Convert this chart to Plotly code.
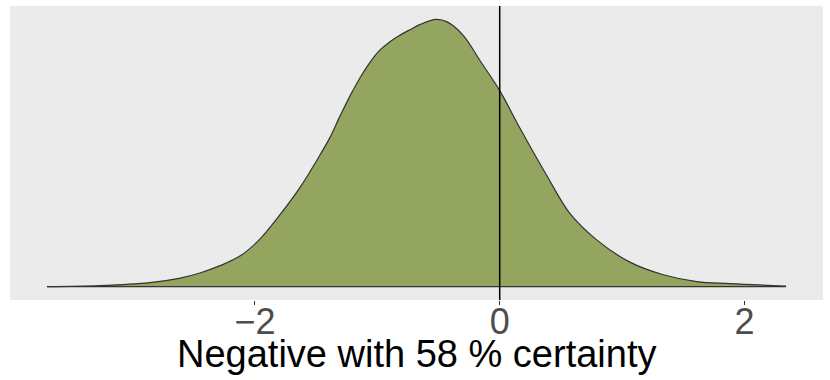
import plotly.graph_objects as go

# density curve (x value, density)
x_vals = [-3.70, -3.27, -2.86, -2.61, -2.45, -2.29, -2.12, -1.96, -1.80, -1.63,
          -1.47, -1.39, -1.31, -1.22, -1.14, -1.06, -0.98, -0.90, -0.82, -0.73,
          -0.65, -0.52, -0.43, -0.30, -0.16, 0.00, 0.16, 0.38, 0.57, 0.79,
          1.06, 1.33, 1.61, 1.88, 2.34]
density = [0.000, 0.002, 0.008, 0.017, 0.027, 0.041, 0.061, 0.094, 0.141, 0.197,
           0.260, 0.294, 0.335, 0.379, 0.414, 0.444, 0.468, 0.484, 0.497, 0.509,
           0.519, 0.529, 0.524, 0.498, 0.447, 0.388, 0.316, 0.222, 0.146, 0.093,
           0.049, 0.024, 0.010, 0.006, 0.001]
tick_vals = [-2, 0, 2]
tick_text = ["\u22122", "0", "2"]
title = "Negative with 58 % certainty"

x_lo, x_hi = min(x_vals), max(x_vals)
pad_x = 0.05 * (x_hi - x_lo)
y_top = max(density)

fig = go.Figure()
# curve, filled down to zero
fig.add_trace(go.Scatter(
    x=x_vals, y=density,
    mode="lines",
    fill="tozeroy",
    fillcolor="#93A55F",
    line=dict(color="#333333", width=1.2, shape="spline", smoothing=1.0),
    hoverinfo="skip",
    showlegend=False,
))
# baseline outline under the density
fig.add_trace(go.Scatter(
    x=[x_lo, x_hi], y=[0, 0],
    mode="lines",
    line=dict(color="#333333", width=1.2),
    hoverinfo="skip",
    showlegend=False,
))

fig.add_vline(x=0, line_color="black", line_width=1.5)

# x axis title, placed under the tick labels
fig.add_annotation(
    text=title,
    xref="paper", yref="paper",
    x=0.5, y=-0.185,
    xanchor="center", yanchor="middle",
    showarrow=False,
    font=dict(size=38, color="black"),
)

fig.update_layout(
    width=830,
    height=380,
    margin=dict(l=10, r=7, t=6, b=80),
    plot_bgcolor="#EBEBEB",
    paper_bgcolor="white",
    font=dict(family="Liberation Sans, Arial, sans-serif"),
    showlegend=False,
)
fig.update_xaxes(
    range=[x_lo - pad_x, x_hi + pad_x],
    tickvals=tick_vals,
    ticktext=tick_text,
    ticks="outside",
    ticklen=4,
    tickwidth=1.1,
    tickcolor="#333333",
    tickfont=dict(size=36, color="#4D4D4D"),
    ticklabelstandoff=-14,
    showgrid=False,
    zeroline=False,
    showline=False,
    automargin=False,
)
fig.update_yaxes(
    range=[-0.05 * y_top, 1.05 * y_top],
    visible=False,
    showgrid=False,
)

fig.write_html("out.html", config={"displayModeBar": False},
               post_script="document.body.style.margin='0';")
